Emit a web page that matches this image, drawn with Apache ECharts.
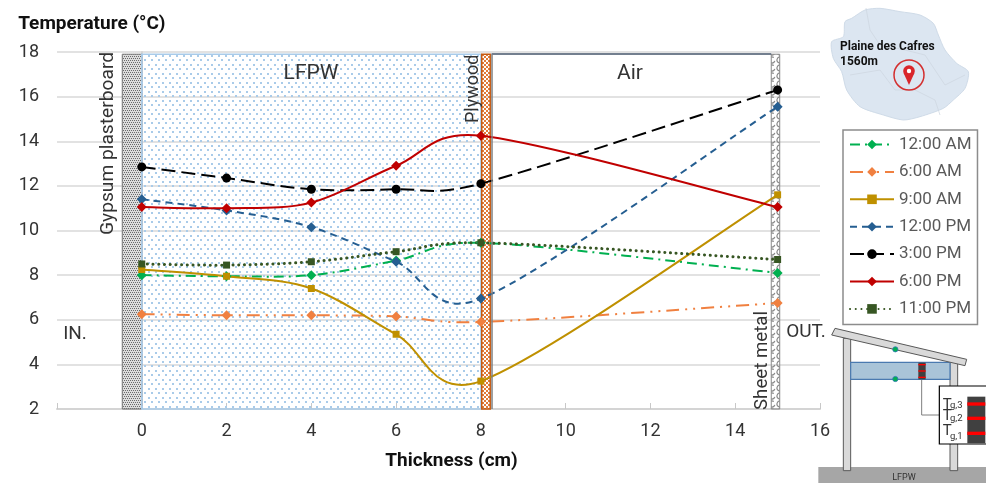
<!DOCTYPE html>
<html><head><meta charset="utf-8">
<style>html,body{margin:0;padding:0;background:#fff}#c{width:986px;height:483px}</style>
<script src="https://cdn.jsdelivr.net/npm/echarts@6/dist/echarts.min.js"></script>
</head><body><div id="c"></div>
<script>
const thickness = [0, 2, 4, 6, 8, 15];
const am12 = [8.0, 7.95, 8.0, 8.65, 9.45, 8.1];
const am6 = [6.25, 6.2, 6.2, 6.15, 5.9, 6.75];
const am9 = [8.25, 7.95, 7.4, 5.35, 3.25, 11.6];
const pm12 = [11.4, 10.9, 10.15, 8.6, 6.95, 15.55];
const pm3 = [12.85, 12.35, 11.85, 11.85, 12.1, 16.3];
const pm6 = [11.05, 11.0, 11.25, 12.9, 14.25, 11.05];
const pm11 = [8.5, 8.45, 8.6, 9.05, 9.45, 8.7];
const seriesNames = ['12:00 AM', '6:00 AM', '9:00 AM', '12:00 PM', '3:00 PM', '6:00 PM', '11:00 PM'];
const layerEdges = {gypsum: [-0.46, 0], lfpw: [0, 8], plywood: [8.02, 8.22], air: [8.25, 14.85], metal: [14.85, 15.05]};
const layerTop = 17.9, layerBottom = 2;

function pattern(w, h, draw) {
  const c = document.createElement('canvas'); c.width = w; c.height = h;
  draw(c.getContext('2d'));
  return {image: c, repeat: 'repeat'};
}
const dotsBlue = pattern(7, 9, g => { g.fillStyle = '#a9cbe9'; g.fillRect(1,1,2,2); g.fillRect(4,5,2,2); });
const dotsGrey = pattern(4, 4, g => {
  g.fillStyle = 'rgba(205,205,205,0.7)'; g.fillRect(0,0,4,4);
  g.fillStyle = '#6a6a6a'; g.fillRect(0,0,1,1); g.fillRect(2,0,1,1); g.fillRect(1,2,1,1); g.fillRect(3,2,1,1);
});
const dotsOrange = pattern(4, 4, g => { g.fillStyle = '#e07b39'; g.fillRect(0,0,2,2); g.fillRect(2,2,2,2); });
const loops = pattern(8, 8, g => { g.strokeStyle = '#8a8a8a'; g.lineWidth = 1.2; g.beginPath(); g.arc(4,4,3,0.3,Math.PI*1.7); g.stroke(); });

echarts.graphic.registerShape('excelCurve', echarts.graphic.extendShape({
  type: 'excelCurve',
  shape: {pts: []},
  buildPath(ctx, shape) {
    const p = shape.pts, n = p.length;
    const back = i => (i > 0 && i < n - 1 && p[i][0] - p[i-1][0] < p[i+1][0] - p[i][0]) ? 0.78 : 1;
    ctx.moveTo(p[0][0], p[0][1]);
    for (let i = 0; i < n - 1; i++) {
      const a = p[Math.max(i - 1, 0)], b = p[i], c = p[i + 1], d = p[Math.min(i + 2, n - 1)];
      const k = back(i + 1);
      ctx.bezierCurveTo(b[0] + (c[0] - a[0]) / 6, b[1] + (c[1] - a[1]) / 6,
                        c[0] - k * (d[0] - b[0]) / 6, c[1] - k * (d[1] - b[1]) / 6, c[0], c[1]);
    }
  }
}));

const pointsOf = data => thickness.map((x, i) => [x, data[i]]);
const curve = (name, data, color, dash, width, cap) => ({
  name: name + ' curve', type: 'custom', data: pointsOf(data), z: 4, silent: true,
  coordinateSystem: 'cartesian2d', encode: {x: 0, y: 1}, clip: false,
  renderItem(params, api) {
    if (params.dataIndex !== 0) return null;
    return {type: 'excelCurve', silent: true,
      shape: {pts: pointsOf(data).map(p => api.coord(p))},
      style: {fill: null, stroke: color, lineWidth: width, lineDash: dash === 'solid' ? null : dash, lineCap: cap || 'butt'}};
  }
});
const markers = (name, data, color, symbol, size, dash, extra) => ({
  name, type: 'line', smooth: false, data: pointsOf(data),
  symbol, symbolSize: size, showSymbol: true,
  itemStyle: {color},
  lineStyle: Object.assign({color, width: 2, type: dash, opacity: 0}, extra || {}),
  z: 5
});
const band = (edges, style) => [
  {xAxis: edges[0], yAxis: layerBottom, itemStyle: style},
  {xAxis: edges[1], yAxis: layerTop}
];

const ox = 810, oy = 320;
const s = ([x, y]) => [ox + x / 3, oy + y / 3];
const rect3 = (x0, y0, x1, y1, fill, stroke, lw) => ({type: 'rect',
  shape: {x: ox + x0/3, y: oy + y0/3, width: (x1-x0)/3, height: (y1-y0)/3},
  style: {fill, stroke: stroke || null, lineWidth: lw || 1}, silent: true});
const mapPts = [[65,125],[100,110],[105,65],[125,55],[165,30],[210,25],[270,35],[330,45],[370,70],[385,105],[405,150],[440,190],[475,215],[465,265],[430,300],[400,325],[330,350],[280,360],[220,345],[150,320],[110,270],[95,215],[70,175]].map(([x,y]) => [810 + x/3, y/3]);
const small = (t, x3, y3, size) => ({type: 'text', x: ox + x3/3, y: oy + y3/3, silent: true, z: 30,
  style: {text: t, fontSize: size, fontFamily: 'Roboto', fill: '#333', verticalAlign: 'middle'}});
const vtext = (t, cx, yBottom, size) => ({type: 'text', x: cx, y: yBottom, rotation: Math.PI/2, silent: true, z: 20,
  style: {text: t, fontSize: size, fontFamily: 'Roboto', fill: '#333', align: 'left', verticalAlign: 'middle'}});
const htext = (t, x, y, size) => ({type: 'text', x, y, silent: true, z: 20,
  style: {text: t, fontSize: size, fontFamily: 'Roboto', fill: '#333', align: 'center', verticalAlign: 'middle'}});

const lineStyles = [
  ['#00b050', 'diamond', 10, [10,5,2,5], 2],
  ['#f08040', 'diamond', 10, [13,6,2,6,2,6], 2],
  ['#bf9000', 'rect', 7, 'solid', 2],
  ['#255e91', 'diamond', 10, [7,5], 2],
  ['#000000', 'circle', 9, [14,6], 2],
  ['#c00000', 'diamond', 10, 'solid', 2],
  ['#375623', 'rect', 7, [0.1,5.6], 3, 'round']
];
const allData = [am12, am6, am9, pm12, pm3, pm6, pm11];

const chart = echarts.init(document.getElementById('c'), null, {renderer: 'canvas'});
chart.setOption({
  animation: false,
  backgroundColor: '#fff',
  textStyle: {fontFamily: 'Roboto'},
  grid: {left: 57, right: 166, top: 52, bottom: 74, containLabel: false},
  legend: {
    data: seriesNames.map(name => ({name, lineStyle: {opacity: 1}})), orient: 'vertical', left: 843, top: 130,
    padding: [6, 6, 7, 6], itemWidth: 44, itemHeight: 12, itemGap: 10.4,
    borderColor: '#8c8c8c', borderWidth: 1.5, backgroundColor: '#fff',
    textStyle: {fontSize: 17, color: '#595959', fontFamily: 'Roboto'}
  },
  xAxis: {
    type: 'value', min: -2, max: 16, interval: 2,
    name: 'Thickness (cm)', nameLocation: 'middle', nameGap: 43,
    nameTextStyle: {fontSize: 19, fontWeight: 'bold', color: '#111', fontFamily: 'Roboto', padding: [0,0,0,26]},
    axisLine: {show: true, onZero: false, lineStyle: {color: '#d4d4d4', width: 2}},
    axisTick: {show: true, inside: true, length: 6, lineStyle: {color: '#c8c8c8', width: 1}},
    axisLabel: {fontSize: 18, color: '#333', margin: 13, formatter: v => v < 0 ? '' : String(v)},
    splitLine: {show: false}
  },
  yAxis: {
    type: 'value', min: 2, max: 18, interval: 2,
    name: 'Temperature (°C)', nameLocation: 'end', nameGap: 18, nameMoveOverlap: false,
    nameTextStyle: {fontSize: 19, fontWeight: 'bold', color: '#111', fontFamily: 'Roboto', align: 'center', padding: [0, 100, 0, 0]},
    axisLine: {show: true, lineStyle: {color: '#d4d4d4', width: 2}},
    axisTick: {show: false},
    axisLabel: {fontSize: 18, color: '#333', margin: 18},
    splitLine: {show: true, lineStyle: {color: '#d9d9d9', width: 1.5}}
  },
  series: [
    {name: 'layers', type: 'line', data: [], z: 1, silent: true,
     markArea: {silent: true, label: {show: false}, data: [
       band(layerEdges.gypsum, {color: dotsGrey, borderColor: '#777', borderWidth: 1}),
       band(layerEdges.lfpw, {color: dotsBlue, borderColor: '#a9cbe9', borderWidth: 1.5}),
       band(layerEdges.plywood, {color: dotsOrange, borderColor: '#c55a11', borderWidth: 1.5}),
       band(layerEdges.metal, {color: loops, borderColor: '#8a8a8a', borderWidth: 1})
     ]},
     markLine: {silent: true, symbol: 'none', label: {show: false},
       lineStyle: {color: '#44546a', width: 1.5, type: 'solid'},
       data: [
         [{xAxis: layerEdges.air[0], yAxis: layerTop}, {xAxis: layerEdges.air[1], yAxis: layerTop}],
         [{xAxis: layerEdges.air[0], yAxis: layerBottom}, {xAxis: layerEdges.air[0], yAxis: layerTop, lineStyle: {color: '#7f7f7f', width: 1.5}}]
       ]}
    },
    ...seriesNames.map((n, i) => markers(n, allData[i], lineStyles[i][0], lineStyles[i][1], lineStyles[i][2], lineStyles[i][3], {width: lineStyles[i][4], cap: lineStyles[i][5] || 'butt'})),
    ...seriesNames.map((n, i) => curve(n, allData[i], lineStyles[i][0], lineStyles[i][3], lineStyles[i][4], lineStyles[i][5]))
  ],
  graphic: [
    vtext('Gypsum plasterboard', 108, 235, 19.2),
    vtext('Plywood', 473, 123, 18),
    vtext('Sheet metal', 762, 410, 18.7),
    htext('LFPW', 311, 74, 21), htext('Air', 630, 74, 21),
    htext('IN.', 75, 334, 19), htext('OUT.', 806, 332, 19),
    {type: 'polygon', shape: {points: mapPts, smooth: 0.25}, style: {fill: '#dce6f1', stroke: '#cfdbe8', lineWidth: 1}, silent: true},
    {type: 'polyline', shape: {points: [[866,8],[870,30],[880,45],[905,50],[925,55],[945,85],[965,75]]}, style: {fill: null, stroke: '#cdd6e0', lineWidth: 0.7}, silent: true},
    {type: 'polyline', shape: {points: [[850,75],[880,70],[895,90],[915,90],[935,100],[940,115]]}, style: {fill: null, stroke: '#cdd6e0', lineWidth: 0.7}, silent: true},
    {type: 'text', x: 840, y: 47, silent: true, style: {text: 'Plaine des Cafres', fontSize: 12, fontWeight: 'bold', fontFamily: 'Roboto', fill: '#111', verticalAlign: 'middle'}},
    {type: 'text', x: 840, y: 62, silent: true, style: {text: '1560m', fontSize: 12, fontWeight: 'bold', fontFamily: 'Roboto', fill: '#111', verticalAlign: 'middle'}},
    {type: 'circle', shape: {cx: 909, cy: 75, r: 15}, style: {fill: 'none', stroke: '#d32f2f', lineWidth: 1.5}, silent: true},
    {type: 'polygon', shape: {points: [[903.6,73],[914.4,73],[909,85]]}, style: {fill: '#d9262b'}, silent: true},
    {type: 'circle', shape: {cx: 909, cy: 71, r: 5.8}, style: {fill: '#d9262b'}, silent: true},
    {type: 'circle', shape: {cx: 909, cy: 71, r: 2.2}, style: {fill: '#fff'}, silent: true},

    rect3(25, 441, 528, 489, '#a6a6a6'),
    {type: 'text', x: ox + 282/3, y: oy + 472/3, silent: true, style: {text: 'LFPW', fontSize: 9, fontFamily: 'Roboto', fill: '#333', align: 'center', verticalAlign: 'middle'}},
    rect3(100, 55, 122, 452, '#d9d9d9', '#595959', 1),
    rect3(420, 125, 443, 452, '#d9d9d9', '#595959', 1),
    rect3(122, 127, 420, 178, '#a9c4d8', '#4a7ab0', 1.2),
    {type: 'polygon', shape: {points: [[75,25],[470,118],[465,137],[65,45]].map(s)}, style: {fill: '#d9d9d9', stroke: '#595959', lineWidth: 1}, silent: true},
    rect3(325, 128, 347, 178, '#404040'),
    rect3(325, 132, 347, 136, '#ff0000'), rect3(325, 151, 347, 155, '#ff0000'), rect3(325, 170, 347, 174, '#ff0000'),
    {type: 'circle', shape: {cx: ox + 256/3, cy: oy + 88/3, r: 2.6}, style: {fill: '#00b050', stroke: '#2e75b6', lineWidth: 0.8}, silent: true},
    {type: 'circle', shape: {cx: ox + 256/3, cy: oy + 177/3, r: 2.6}, style: {fill: '#00b050', stroke: '#2e75b6', lineWidth: 0.8}, silent: true},
    {type: 'polyline', shape: {points: [[335,180],[335,285],[388,285]].map(s)}, style: {fill: null, stroke: '#7f7f7f', lineWidth: 1}, silent: true},
    rect3(388, 198, 530, 372, '#fff', '#000', 1.2),
    rect3(472, 230, 526, 370, '#404040'),
    rect3(472, 247, 526, 257, '#ff0000'), rect3(472, 290, 526, 300, '#ff0000'), rect3(472, 335, 526, 345, '#ff0000'),
    small('T', 398, 255, 15), small('g,3', 420, 257, 9.5),
    small('T', 398, 288, 15), small('g,2', 420, 297, 9.5),
    small('T', 398, 334, 15), small('g,1', 420, 349, 9.5)
  ]
});
</script></body></html>
